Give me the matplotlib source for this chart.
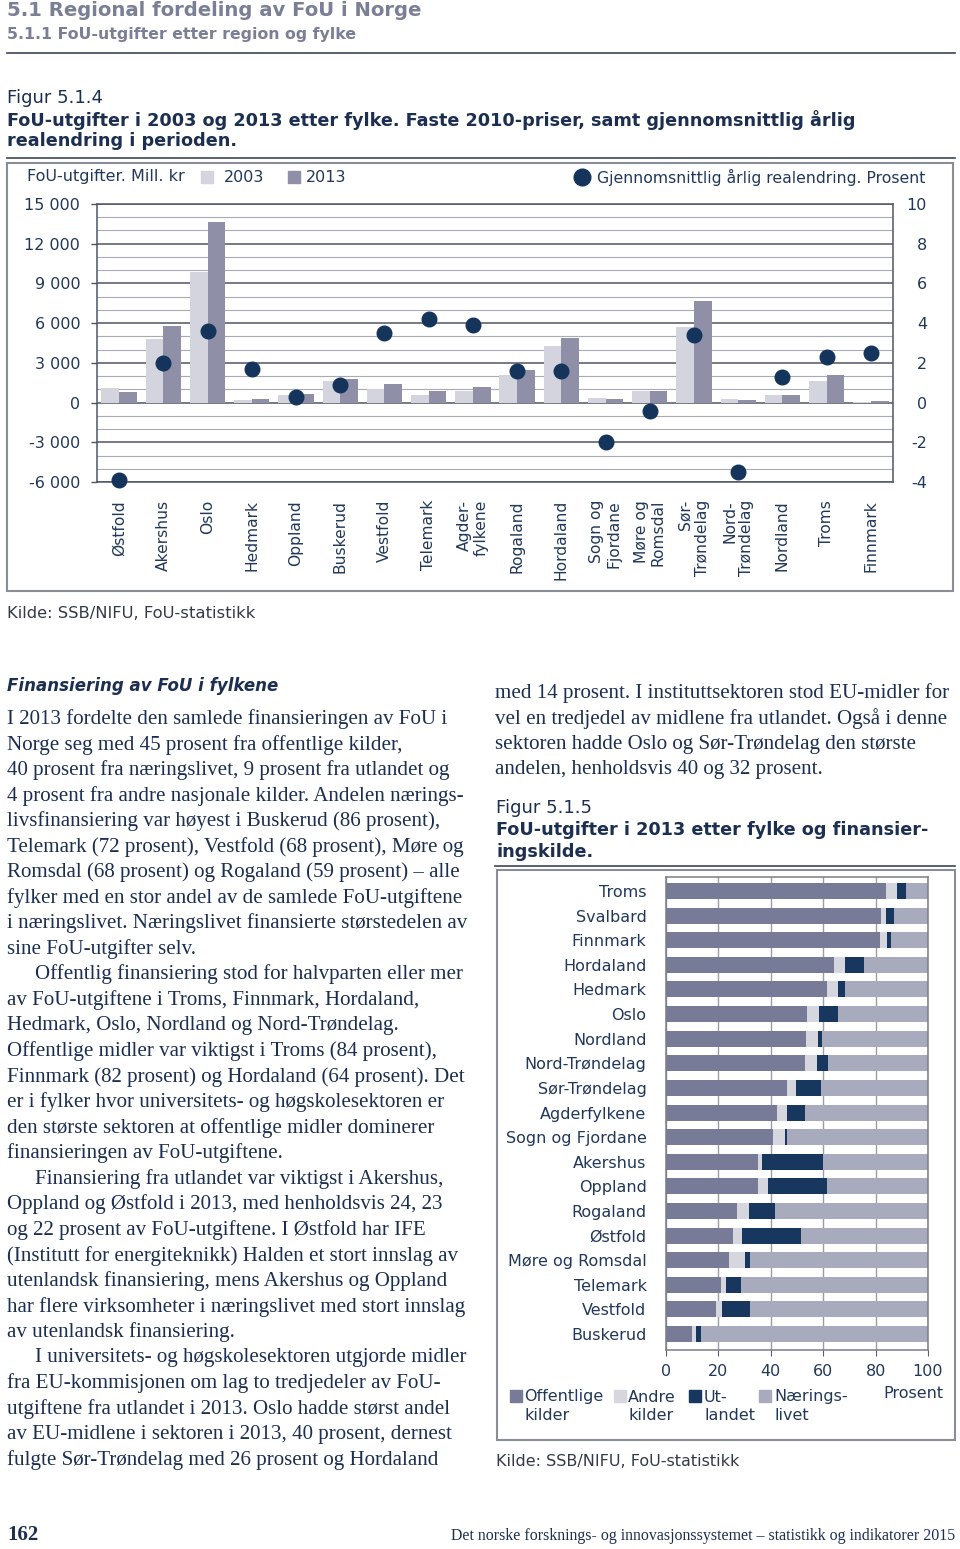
import matplotlib
matplotlib.use("Agg")
import matplotlib.pyplot as plt
from matplotlib.patches import Rectangle
from matplotlib.lines import Line2D
import numpy as np

# ---- data: figur 5.1.4 ----
fylker = ['Østfold', 'Akershus', 'Oslo', 'Hedmark', 'Oppland', 'Buskerud',
          'Vestfold', 'Telemark', 'Agder-\nfylkene', 'Rogaland', 'Hordaland',
          'Sogn og\nFjordane', 'Møre og\nRomsdal', 'Sør-\nTrøndelag',
          'Nord-\nTrøndelag', 'Nordland', 'Troms', 'Finnmark']
utg_2003 = [1100, 4800, 9900, 230, 600, 1600, 1000, 600, 850, 2100, 4250,
            350, 900, 5700, 300, 550, 1600, 40]
utg_2013 = [800, 5750, 13650, 260, 650, 1750, 1400, 900, 1150, 2450, 4850,
            280, 900, 7650, 200, 600, 2050, 120]
endring = [-3.9, 2.0, 3.6, 1.7, 0.3, 0.9, 3.5, 4.2, 3.9, 1.6, 1.6, -2.0,
           -0.4, 3.4, -3.5, 1.3, 2.3, 2.5]
left_ticks = [-6000, -3000, 0, 3000, 6000, 9000, 12000, 15000]
left_labels = ['-6 000', '-3 000', '0', '3 000', '6 000', '9 000', '12 000', '15 000']
right_ticks = [-4, -2, 0, 2, 4, 6, 8, 10]

# ---- data: figur 5.1.5 ----
regioner = ['Troms', 'Svalbard', 'Finnmark', 'Hordaland', 'Hedmark', 'Oslo',
            'Nordland', 'Nord-Trøndelag', 'Sør-Trøndelag', 'Agderfylkene',
            'Sogn og Fjordane', 'Akershus', 'Oppland', 'Rogaland', 'Østfold',
            'Møre og Romsdal', 'Telemark', 'Vestfold', 'Buskerud']
offentlig = [84, 82, 81.5, 64, 61.5, 54, 53.5, 53, 46, 42.5, 41, 35, 35, 27, 25.5, 24, 21, 19, 10]
andre = [4, 2, 3, 4.5, 4, 4.5, 4.5, 4.5, 3.5, 3.5, 4.5, 1.5, 4, 4.5, 3.5, 6, 2, 2.5, 1.5]
utland = [3.5, 3, 1.5, 7, 3, 7, 1.5, 4.5, 9.5, 7, 0.5, 23.5, 22.5, 10, 22.5, 2, 5.5, 10.5, 2]
naering = [8.5, 13, 14, 24.5, 31.5, 34.5, 40.5, 38, 41, 47, 54, 40, 38.5, 58.5, 48.5, 68, 71.5, 68, 86.5]
kilde_navn = [('Offentlige', 'kilder'), ('Andre', 'kilder'), ('Ut-', 'landet'), ('Nærings-', 'livet')]

W, H = 960, 1549
fig = plt.figure(figsize=(W / 100, H / 100), dpi=100)


def fx(x):
    return x / W


def fy(y):
    return 1 - y / H


navy = '#1c2f50'
txt = '#22385a'
head_grey = '#7b7f95'
c2003 = '#d3d4dd'
c2013 = '#8f90a8'
cdot = '#15345c'
ser = 'Liberation Serif'
body = 15.1
tbold = 12.7


def hline(x0, x1, y, c='#3c4658', lw=1.2):
    fig.add_artist(Line2D([fx(x0), fx(x1)], [fy(y), fy(y)], color=c, lw=lw,
                          transform=fig.transFigure))


def box(x0, y0, x1, y1, c='#8a8c96', lw=1.5):
    fig.add_artist(Rectangle((fx(x0), fy(y1)), fx(x1) - fx(x0), (y1 - y0) / H,
                             fill=False, edgecolor=c, lw=lw, transform=fig.transFigure))


def square(x, y, s, c):
    fig.add_artist(Rectangle((fx(x), fy(y + s)), s / W, s / H, color=c,
                             transform=fig.transFigure))


# ---- headers ----
fig.text(fx(7), fy(10), '5.1 Regional fordeling av FoU i Norge', size=14.1,
         weight='bold', color=head_grey, va='center')
fig.text(fx(7), fy(35), '5.1.1 FoU-utgifter etter region og fylke', size=11.3,
         weight='bold', color=head_grey, va='center')
hline(7, 955, 53)
fig.text(fx(7), fy(98), 'Figur 5.1.4', size=13, color=navy, va='center')
fig.text(fx(7), fy(120), 'FoU-utgifter i 2003 og 2013 etter fylke. Faste 2010-priser, samt gjennomsnittlig årlig',
         size=tbold, weight='bold', color=navy, va='center')
fig.text(fx(7), fy(141), 'realendring i perioden.', size=tbold, weight='bold', color=navy, va='center')
hline(7, 955, 158)
box(7, 163, 953, 591)

# legend row
fig.text(fx(27), fy(177), 'FoU-utgifter. Mill. kr', size=11.5, color=txt, va='center')
square(201, 171, 12, c2003)
fig.text(fx(224), fy(177), '2003', size=11.5, color=txt, va='center')
square(288, 171, 12, c2013)
fig.text(fx(306), fy(177), '2013', size=11.5, color=txt, va='center')
fig.add_artist(Line2D([fx(582)], [fy(177)], marker='o', ms=12, color=cdot,
                      transform=fig.transFigure))
fig.text(fx(925), fy(177), 'Gjennomsnittlig årlig realendring. Prosent', size=11.3,
         color=txt, va='center', ha='right')

# ---- chart 5.1.4 ----
ax = fig.add_axes([fx(97), fy(482), fx(893) - fx(97), (482 - 204) / H])
x = np.arange(len(fylker))
ax.bar(x - 0.2, utg_2003, 0.4, color=c2003, zorder=2)
ax.bar(x + 0.2, utg_2013, 0.4, color=c2013, zorder=2)
ax.set_xlim(-0.5, len(fylker) - 0.5)
ax.set_ylim(-6000, 15000)
ax.set_yticks(left_ticks)
ax.set_yticklabels(left_labels)
ax.set_yticks(np.arange(-6000, 15001, 1000), minor=True)
ax.grid(axis='y', which='minor', color='#a9abb4', lw=0.8, zorder=0)
ax.grid(axis='y', which='major', color='#4f5566', lw=1.1, zorder=1)
ax.tick_params(axis='y', which='major', length=4, width=1, color='#4f5566',
               labelsize=11.5, labelcolor=txt, pad=8)
ax.tick_params(axis='y', which='minor', length=0)
ax.set_xticks(x)
ax.set_xticklabels(fylker, rotation=90, va='top', ha='center',
                   multialignment='right', fontsize=11.2, color=txt)
ax.tick_params(axis='x', length=0, pad=13)
for s in ax.spines.values():
    s.set_color('#4f5566')
    s.set_linewidth(1.1)

ax2 = ax.twinx()
ax2.plot(x, endring, 'o', ms=10.5, color=cdot, clip_on=False, zorder=5)
ax2.set_ylim(-4, 10)
ax2.set_yticks(right_ticks)
ax2.set_yticklabels([str(v) for v in right_ticks])
ax2.tick_params(axis='y', length=0, pad=24.5, labelsize=11.5, labelcolor=txt)
for lab in ax2.get_yticklabels():
    lab.set_ha('right')
for s in ax2.spines.values():
    s.set_visible(False)

fig.text(fx(7), fy(614), 'Kilde: SSB/NIFU, FoU-statistikk', size=11.8, color='#333a48', va='center')

# ---- body text ----
fig.text(fx(7), fy(686), 'Finansiering av FoU i fylkene', size=12, weight='bold',
         style='italic', color=navy, va='center')
venstre = [
    (0, 'I 2013 fordelte den samlede finansieringen av FoU i'),
    (0, 'Norge seg med 45 prosent fra offentlige kilder,'),
    (0, '40 prosent fra næringslivet, 9 prosent fra utlandet og'),
    (0, '4 prosent fra andre nasjonale kilder. Andelen nærings-'),
    (0, 'livsfinansiering var høyest i Buskerud (86 prosent),'),
    (0, 'Telemark (72 prosent), Vestfold (68 prosent), Møre og'),
    (0, 'Romsdal (68 prosent) og Rogaland (59 prosent) – alle'),
    (0, 'fylker med en stor andel av de samlede FoU-utgiftene'),
    (0, 'i næringslivet. Næringslivet finansierte størstedelen av'),
    (0, 'sine FoU-utgifter selv.'),
    (1, 'Offentlig finansiering stod for halvparten eller mer'),
    (0, 'av FoU-utgiftene i Troms, Finnmark, Hordaland,'),
    (0, 'Hedmark, Oslo, Nordland og Nord-Trøndelag.'),
    (0, 'Offentlige midler var viktigst i Troms (84 prosent),'),
    (0, 'Finnmark (82 prosent) og Hordaland (64 prosent). Det'),
    (0, 'er i fylker hvor universitets- og høgskolesektoren er'),
    (0, 'den største sektoren at offentlige midler dominerer'),
    (0, 'finansieringen av FoU-utgiftene.'),
    (1, 'Finansiering fra utlandet var viktigst i Akershus,'),
    (0, 'Oppland og Østfold i 2013, med henholdsvis 24, 23'),
    (0, 'og 22 prosent av FoU-utgiftene. I Østfold har IFE'),
    (0, '(Institutt for energiteknikk) Halden et stort innslag av'),
    (0, 'utenlandsk finansiering, mens Akershus og Oppland'),
    (0, 'har flere virksomheter i næringslivet med stort innslag'),
    (0, 'av utenlandsk finansiering.'),
    (1, 'I universitets- og høgskolesektoren utgjorde midler'),
    (0, 'fra EU-kommisjonen om lag to tredjedeler av FoU-'),
    (0, 'utgiftene fra utlandet i 2013. Oslo hadde størst andel'),
    (0, 'av EU-midlene i sektoren i 2013, 40 prosent, dernest'),
    (0, 'fulgte Sør-Trøndelag med 26 prosent og Hordaland'),
]
for i, (ind, line) in enumerate(venstre):
    fig.text(fx(7 + 28 * ind), fy(719 + 25.55 * i), line, family=ser, size=body,
             color=navy, va='center')

hoyre = ['med 14 prosent. I instituttsektoren stod EU-midler for',
         'vel en tredjedel av midlene fra utlandet. Også i denne',
         'sektoren hadde Oslo og Sør-Trøndelag den største',
         'andelen, henholdsvis 40 og 32 prosent.']
for i, line in enumerate(hoyre):
    fig.text(fx(495), fy(693 + 25.55 * i), line, family=ser, size=body,
             color=navy, va='center')

fig.text(fx(496), fy(808), 'Figur 5.1.5', size=13, color=navy, va='center')
fig.text(fx(496), fy(830), 'FoU-utgifter i 2013 etter fylke og finansier-', size=tbold,
         weight='bold', color=navy, va='center')
fig.text(fx(496), fy(852), 'ingskilde.', size=tbold, weight='bold', color=navy, va='center')
hline(495, 955, 866)
box(497, 870, 955, 1440)

# ---- chart 5.1.5 ----
bx = fig.add_axes([fx(666), fy(1350), fx(928) - fx(666), (1350 - 877) / H])
yy = np.arange(len(regioner))
farger = ['#787b98', '#d5d6de', '#18375f', '#a8aabd']
left = np.zeros(len(regioner))
for serie, c in zip([offentlig, andre, utland, naering], farger):
    bx.barh(yy, serie, 0.65, left=left, color=c, zorder=2)
    left = left + np.array(serie)
bx.set_xlim(0, 100)
bx.set_ylim(len(regioner) - 0.35, -0.57)
bx.set_yticks(yy)
bx.set_yticklabels(regioner, fontsize=11.5, color=txt)
bx.tick_params(axis='y', length=0, pad=14)
bx.set_xticks([0, 20, 40, 60, 80, 100])
bx.tick_params(axis='x', length=4, color='#5a5f6e', labelsize=11.5, labelcolor=txt, pad=6)
bx.grid(axis='x', color='#9a9ca8', lw=1, zorder=0)
for s in bx.spines.values():
    s.set_color('#7a7c88')
    s.set_linewidth(1.1)

lx = [(510, 524), (614, 628), (689, 704), (759, 774)]
for (sq, tx), (l1, l2), c in zip(lx, kilde_navn, farger):
    square(sq, 1390, 12, c)
    fig.text(fx(tx), fy(1397), l1, size=11.5, color=txt, va='center')
    fig.text(fx(tx), fy(1416), l2, size=11.5, color=txt, va='center')
fig.text(fx(913), fy(1393), 'Prosent', size=11.5, color=txt, va='center', ha='center')
fig.text(fx(496), fy(1462), 'Kilde: SSB/NIFU, FoU-statistikk', size=11.5, color='#333a48', va='center')

# ---- footer ----
fig.text(fx(7), fy(1535), '162', family=ser, size=15, weight='bold', color=navy, va='center')
fig.text(fx(955), fy(1536), 'Det norske forsknings- og innovasjonssystemet – statistikk og indikatorer 2015',
         family=ser, size=11.4, color=navy, va='center', ha='right')

fig.savefig('out.png', dpi=100, facecolor='white')
